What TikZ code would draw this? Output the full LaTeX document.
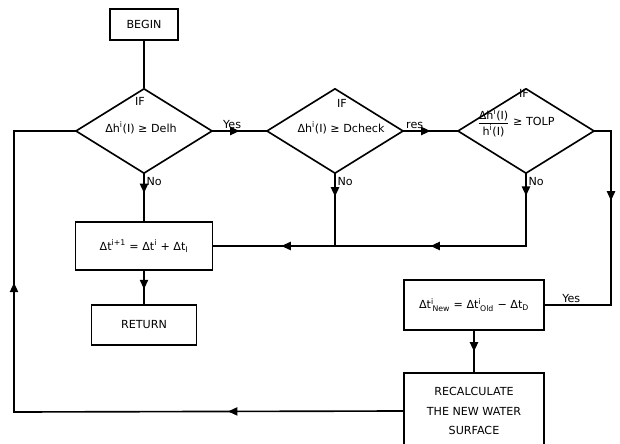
\documentclass[tikz,border=0pt]{standalone}
\usepackage{amsmath}
\usepackage{fontspec}
\setmainfont{DejaVu Sans}
\usepackage{tikz}
\usetikzlibrary{shapes.geometric, arrows.meta, decorations.markings, positioning}
\tikzstyle{startstop} = [rectangle, minimum width=2.04cm, minimum height=0.93cm, text centered, draw=black, fill=white]
\tikzstyle{process} = [rectangle, minimum width=4.1cm, minimum height=1.44cm, text centered, draw=black, fill=white]
\tikzstyle{decision} = [diamond, minimum width=4.1cm, minimum height=2.55cm, inner sep=0pt, draw=black]
\tikzstyle{flow} = [line width=1.4pt, line cap=rect]
\tikzset{midarrow/.style={flow, decoration={markings, mark=at position #1 with {\arrow{Triangle[length=8pt,width=7pt]}}}, postaction={decorate}}, midarrow/.default=0.5}

\begin{document}
\begin{tikzpicture}[
  every node/.style={font=\fontsize{9.5}{11}\selectfont, inner sep=1.5pt},
  startstop/.append style={line width=1.4pt},
  process/.append style={line width=1.4pt},
  decision/.append style={line width=1.4pt}
]
\useasboundingbox (0,0) rectangle (18.6,-13.32);

\node (begin) [startstop] at (4.32,-0.735) {BEGIN};

% the three tests
\node (d1) [decision] at (4.32,-3.93) {};
\node (d2) [decision] at (10.05,-3.93) {};
\node (d3) [decision] at (15.78,-3.93) {};
\node (if1) at (4.2,-3.03) {IF};
\node (if2) at (10.26,-3.09) {IF};
\node (if3) at (15.72,-2.8) {IF};
\node (t1) at (4.23,-3.84) {Δh\textsuperscript{i}(I) ≥ Delh};
\node (t2) at (10.23,-3.84) {Δh\textsuperscript{i}(I) ≥ Dcheck};
\node (t3) at (15.48,-3.68)
  {$\dfrac{\text{Δh\textsuperscript{i}(I)}}{\text{h\textsuperscript{i}(I)}}$ ≥ TOLP};

\node (incr) [process] at (4.32,-7.38)
  {Δt\textsuperscript{i+1} = Δt\textsuperscript{i} + Δt\textsubscript{I}};
\node (ret) [process, minimum width=3.15cm, minimum height=1.2cm] at (4.32,-9.75) {RETURN};

\node (new) [process, minimum width=4.2cm, minimum height=1.5cm] at (14.22,-9.15)
  {Δt$^{\text{i}}_{\,\text{New}}$ = Δt$^{\text{i}}_{\,\text{Old}}$ − Δt\textsubscript{D}};
\node (recalc) [process, minimum width=4.2cm, minimum height=2.28cm, align=center] at (14.22,-12.33)
  {RECALCULATE\\[6pt]THE NEW WATER\\[6pt]SURFACE};

\coordinate (r1) at (18.33,-3.93);
\coordinate (r2) at (18.33,-9.15);
\coordinate (j3) at (d3.south |- incr.east);
\coordinate (j2) at (d2.south |- incr.east);
\coordinate (l1) at (0.42,-12.36);
\coordinate (l2) at (0.42,-3.93);

\draw [flow] (begin) -- (d1.north);
\draw [midarrow] (d1.east) -- node (yes1) [above, pos=0.36] {Yes} (d2.west);
\draw [midarrow] (d2.east) -- node (yes2) [above, pos=0.2] {res} (d3.west);
\draw [midarrow=0.4] (d1.south) -- node (no1) [anchor=north west, pos=0] {No} (incr.north);
\draw [midarrow=0.31] (d2.south) -- node (no2) [anchor=north west, pos=0] {No} (j2);
\draw [midarrow=0.3] (d3.south) -- node (no3) [anchor=north west, pos=0] {No} (j3);
\draw [midarrow] (j3) -- (j2);
\draw [midarrow=0.44] (j2) -- (incr.east);
\draw [midarrow=0.55] (incr) -- (ret);

\draw [flow] (d3.east) -- (r1);
\draw [midarrow=0.4] (r1) -- (r2);
\draw [flow] (r2) -- node (yes3) [above, pos=0.6] {Yes} (new.east);
\draw [midarrow] (new) -- (recalc);

\draw [midarrow=0.45] (recalc.west) -- (l1);
\draw [midarrow=0.46] (l1) -- (l2);
\draw [flow] (l2) -- (d1.west);

\end{tikzpicture}
\end{document}
